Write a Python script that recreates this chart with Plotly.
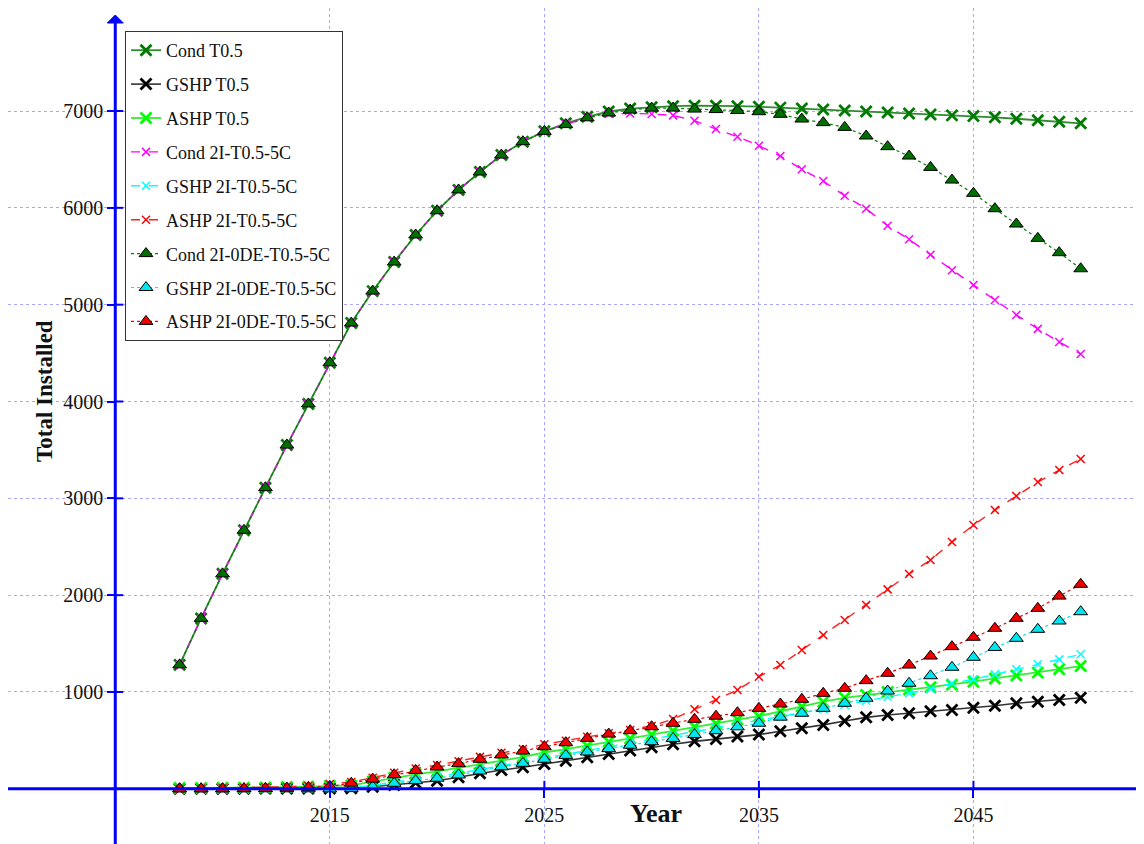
import plotly.graph_objects as go

years = list(range(2008, 2051))

cond_t05 = [1280, 1760, 2220, 2670, 3110, 3550, 3975, 4400, 4810, 5140, 5440, 5720, 5970, 6185,
            6370, 6545, 6683, 6790, 6873, 6940, 6995, 7025, 7040, 7050, 7055, 7055, 7050, 7045,
            7035, 7025, 7015, 7005, 6995, 6985, 6975, 6965, 6955, 6948, 6935, 6920, 6905, 6890, 6873]
gshp_t05 = [0, 0, 0, 0, 2, 2, 3, 3, 5, 22, 40, 63, 84, 119, 160, 194, 222, 256, 290, 325, 360,
            395, 430, 460, 490, 515, 540, 560, 595, 625, 660, 700, 738, 762, 780, 800, 815, 838,
            858, 883, 900, 917, 941]
ashp_t05 = [8, 8, 10, 12, 14, 18, 22, 28, 35, 75, 115, 150, 180, 215, 252, 290, 330, 375, 410,
            445, 485, 520, 560, 600, 640, 675, 715, 750, 800, 850, 900, 940, 970, 1000, 1025, 1050,
            1075, 1106, 1140, 1170, 1200, 1235, 1268]
cond_2i = [1280, 1760, 2220, 2670, 3110, 3550, 3975, 4400, 4810, 5140, 5440, 5720, 5970, 6185,
           6370, 6545, 6683, 6790, 6865, 6930, 6970, 6975, 6970, 6955, 6900, 6814, 6735, 6642,
           6535, 6398, 6277, 6125, 5991, 5815, 5675, 5516, 5355, 5203, 5049, 4894, 4750, 4615, 4490]
gshp_2i = [0, 0, 0, 0, 2, 3, 4, 5, 10, 35, 70, 100, 125, 160, 200, 240, 275, 320, 360, 400, 440,
           478, 515, 552, 590, 628, 666, 705, 745, 785, 825, 865, 910, 951, 986, 1031, 1090, 1131,
           1182, 1234, 1286, 1337, 1389]
ashp_2i = [0, 3, 6, 10, 15, 22, 32, 50, 70, 115, 165, 210, 245, 285, 330, 372, 412, 460, 497,
           538, 573, 607, 649, 721, 821, 917, 1020, 1158, 1278, 1433, 1588, 1743, 1898, 2060, 2218,
           2363, 2549, 2724, 2879, 3024, 3168, 3292, 3406]
cond_0de = [1280, 1760, 2220, 2670, 3110, 3550, 3975, 4400, 4810, 5140, 5440, 5720, 5970, 6185,
            6370, 6545, 6683, 6790, 6860, 6930, 6980, 7010, 7030, 7030, 7020, 7015, 7005, 6993,
            6966, 6917, 6880, 6831, 6742, 6632, 6535, 6418, 6287, 6150, 5991, 5833, 5685, 5537, 5371]
gshp_0de = [0, 0, 0, 0, 0, 0, 0, 0, 2, 22, 57, 84, 109, 143, 184, 228, 263, 305, 345, 380, 415,
            450, 486, 520, 560, 600, 640, 677, 740, 780, 831, 883, 935, 1010, 1090, 1168, 1255,
            1358, 1460, 1554, 1647, 1733, 1829]
ashp_0de = [0, 0, 0, 2, 4, 8, 15, 25, 58, 100, 145, 190, 225, 260, 305, 350, 390, 435, 476, 521,
            565, 600, 641, 677, 718, 750, 786, 831, 876, 924, 986, 1038, 1117, 1193, 1278, 1371,
            1468, 1565, 1658, 1761, 1864, 1990, 2112]

series_names = ["Cond T0.5", "GSHP T0.5", "ASHP T0.5",
                "Cond 2I-T0.5-5C", "GSHP 2I-T0.5-5C", "ASHP 2I-T0.5-5C",
                "Cond 2I-0DE-T0.5-5C", "GSHP 2I-0DE-T0.5-5C", "ASHP 2I-0DE-T0.5-5C"]
series_values = [cond_t05, gshp_t05, ashp_t05, cond_2i, gshp_2i, ashp_2i,
                 cond_0de, gshp_0de, ashp_0de]

x_ticks = [2015, 2025, 2035, 2045]
y_ticks = [1000, 2000, 3000, 4000, 5000, 6000, 7000]
axis_x_cross = 2005
axis_y_cross = 0

# styles
styles = [
    dict(line=dict(color="#2e8b2e", width=1.8), marker=dict(symbol="x-thin", size=11, line=dict(color="#007a00", width=2.8))),
    dict(line=dict(color="#333333", width=1.6), marker=dict(symbol="x-thin", size=11, line=dict(color="#000000", width=2.8))),
    dict(line=dict(color="#33ee33", width=1.8), marker=dict(symbol="x-thin", size=11, line=dict(color="#00ff00", width=2.8))),
    dict(line=dict(color="#ff00ff", width=1.4, dash="dash"), marker=dict(symbol="x-thin", size=8, line=dict(color="#ff00ff", width=1.5))),
    dict(line=dict(color="#00ffff", width=1.4, dash="dash"), marker=dict(symbol="x-thin", size=8, line=dict(color="#00ffff", width=1.5))),
    dict(line=dict(color="#ff2020", width=1.4, dash="dash"), marker=dict(symbol="x-thin", size=8, line=dict(color="#ff0000", width=1.5))),
    dict(line=dict(color="#008000", width=1.2, dash="dot"), marker=dict(symbol="triangle-up", size=12, color="#006e00", line=dict(color="#000000", width=1))),
    dict(line=dict(color="#00e5ee", width=1.2, dash="dot"), marker=dict(symbol="triangle-up", size=12, color="#00e5ee", line=dict(color="#000000", width=1))),
    dict(line=dict(color="#ee0000", width=1.2, dash="dot"), marker=dict(symbol="triangle-up", size=12, color="#ee0000", line=dict(color="#000000", width=1))),
]

fig = go.Figure()
for i, (name, vals) in enumerate(zip(series_names, series_values)):
    fig.add_trace(go.Scatter(x=years, y=vals, name=name, mode="lines+markers",
                             legendgroup=f"g{i}", **styles[i]))

W, H = 1144, 844
MR, MB = 8, 8
PW, PH = W - MR, H - MB          # plot area size (page body margin offsets it by 8px)
x0, x1 = 2000.0, 2052.95
y0, y1 = -570.0, 8064.0
xpos = (axis_x_cross - x0) / (x1 - x0)
ypos = (axis_y_cross - y0) / (y1 - y0)
px_x = (x1 - x0) / PW   # data units per pixel, x
px_y = (y1 - y0) / PH   # data units per pixel, y

serif = "Liberation Serif"
grid = "#a8a8ff"
blue = "#0000ff"
txt = "#111111"

fig.update_layout(
    width=W, height=H,
    margin=dict(l=0, r=MR, t=0, b=MB),
    paper_bgcolor="white", plot_bgcolor="white",
    font=dict(family=serif, size=20, color=txt),
    xaxis=dict(range=[x0, x1], anchor="free", position=ypos, tickvals=x_ticks,
               showgrid=True, gridcolor=grid, griddash="dot", gridwidth=1,
               zeroline=False, showline=False, ticks="outside", ticklen=8,
               tickcolor=blue, tickwidth=2, tickfont=dict(family=serif, size=20, color=txt)),
    yaxis=dict(range=[y0, y1], anchor="free", position=xpos, tickvals=y_ticks,
               showgrid=True, gridcolor=grid, griddash="dot", gridwidth=1,
               zeroline=False, showline=False, ticks="outside", ticklen=8,
               tickcolor=blue, tickwidth=2, tickfont=dict(family=serif, size=20, color=txt)),
    legend=dict(x=117 / PW, y=1 - 23 / PH, xanchor="left", yanchor="top",
                bgcolor="white", bordercolor="#333333", borderwidth=1,
                font=dict(family=serif, size=18, color=txt),
                tracegroupgap=7.5, itemwidth=30),
)

# axis lines with arrowheads
ytip = (y1) - 7 * px_y
ybase = (y1) - 15 * px_y
xtip = x1
xbase = x1 - 7 * px_x
shapes = [
    dict(type="line", xref="x", yref="y", x0=axis_x_cross, x1=axis_x_cross, y0=y0, y1=ybase,
         line=dict(color=blue, width=3)),
    dict(type="line", xref="x", yref="y", x0=x0, x1=xbase, y0=axis_y_cross, y1=axis_y_cross,
         line=dict(color=blue, width=3)),
    dict(type="path", xref="x", yref="y",
         path=f"M {axis_x_cross - 8 * px_x} {ybase} L {axis_x_cross + 8 * px_x} {ybase} L {axis_x_cross} {ytip} Z",
         fillcolor=blue, line=dict(color=blue, width=1)),
    dict(type="path", xref="x", yref="y",
         path=f"M {xbase} {axis_y_cross - 8 * px_y} L {xbase} {axis_y_cross + 8 * px_y} L {xtip} {axis_y_cross} Z",
         fillcolor=blue, line=dict(color=blue, width=1)),
]
# inner half of the crossing tick marks
for v in y_ticks:
    shapes.append(dict(type="line", xref="x", yref="y", x0=axis_x_cross, x1=axis_x_cross + 8 * px_x,
                       y0=v, y1=v, line=dict(color=blue, width=2)))
for v in x_ticks:
    shapes.append(dict(type="line", xref="x", yref="y", x0=v, x1=v,
                       y0=axis_y_cross, y1=axis_y_cross + 8 * px_y, line=dict(color=blue, width=2)))
fig.update_layout(shapes=shapes)

fig.add_annotation(text="<b>Total Installed</b>", xref="paper", yref="paper",
                   x=37 / PW, y=1 - 383 / PH, xanchor="center", yanchor="middle",
                   textangle=-90, showarrow=False,
                   font=dict(family=serif, size=23, color=txt))
fig.add_annotation(text="<b>Year</b>", xref="paper", yref="paper",
                   x=648 / PW, y=1 - 805 / PH, xanchor="center", yanchor="middle",
                   showarrow=False, font=dict(family=serif, size=26, color=txt))

fig.write_html("out.html")
